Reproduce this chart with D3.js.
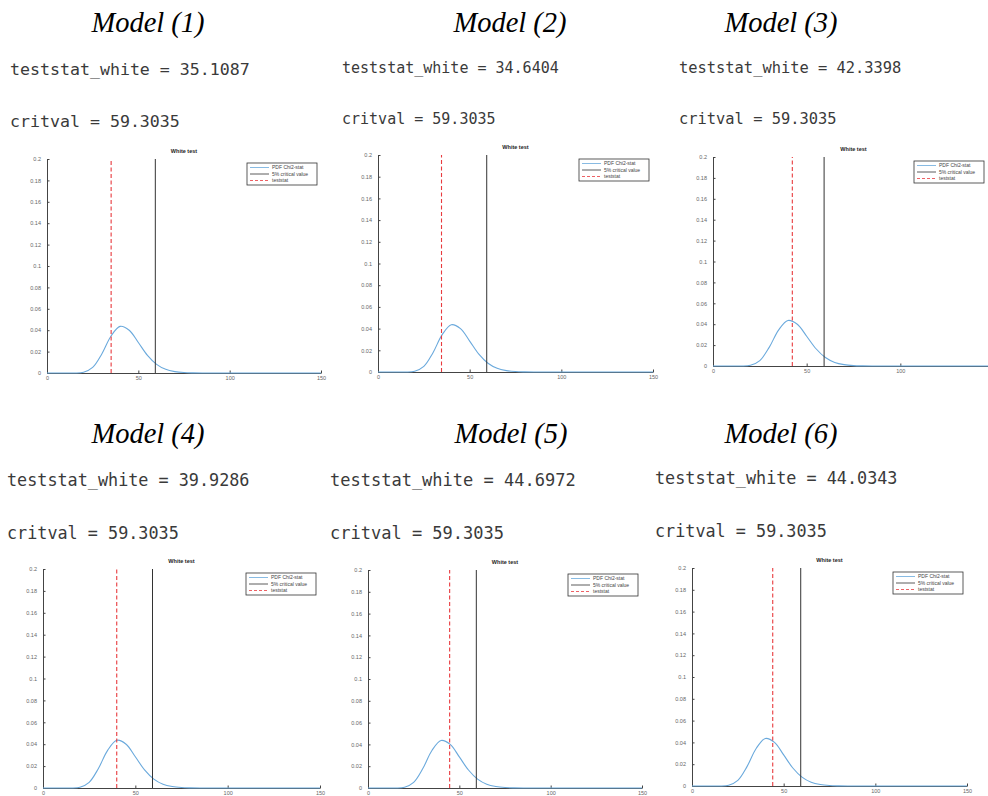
<!DOCTYPE html>
<html>
<head>
<meta charset="utf-8">
<script src="https://cdn.jsdelivr.net/npm/d3@7.9.0/dist/d3.min.js"></script>
<style>
  body { margin: 0; background: #fff; }
  svg { display: block; }
</style>
</head>
<body>
<svg id="chart" width="988" height="796"></svg>
<script>
// chart data
const models = ["Model (1)", "Model (2)", "Model (3)", "Model (4)", "Model (5)", "Model (6)"];
const teststat = [35.1087, 34.6404, 42.3398, 39.9286, 44.6972, 44.0343];
const critval = [59.3035, 59.3035, 59.3035, 59.3035, 59.3035, 59.3035];
const pdfX = [0, 5, 10, 15, 20, 25, 30, 35, 40, 45, 50, 55, 60, 65, 70, 75, 80, 85, 90, 100, 110, 120, 130, 140, 150];
const pdfY = [0, 0, 0, 0.00002, 0.0007, 0.0052, 0.0178, 0.0344, 0.0436, 0.0400, 0.0285, 0.0165, 0.0081, 0.0034, 0.0013, 0.0004, 0.0001, 0, 0, 0, 0, 0, 0, 0, 0];
const xTicks = [0, 50, 100, 150];
const yTicks = [0, 0.02, 0.04, 0.06, 0.08, 0.1, 0.12, 0.14, 0.16, 0.18, 0.2];
const legendLabels = ["PDF Chi2-stat", "5% critical value", "teststat"];

// where each screenshot sits on the page
const frames = [
  { left: 47, top: 159, right: 321, bottom: 373, head: 148, headY: 32, tx: 10, tY: 75, cY: 127, fs: 16.6 },
  { left: 378, top: 155, right: 653, bottom: 372, head: 510, headY: 32, tx: 342, tY: 73, cY: 124, fs: 15 },
  { left: 713, top: 157, right: 994, bottom: 366, head: 781, headY: 32, tx: 679, tY: 73, cY: 124, fs: 15.4 },
  { left: 43, top: 569, right: 320, bottom: 788, head: 148, headY: 443, tx: 7, tY: 486, cY: 539, fs: 16.8 },
  { left: 368, top: 570, right: 642, bottom: 788, head: 511, headY: 443, tx: 330, tY: 486, cY: 539, fs: 17 },
  { left: 692, top: 568, right: 967, bottom: 786, head: 781, headY: 443, tx: 655, tY: 484, cY: 537, fs: 16.8 }
];

const blue = "#6aa9dc";
const red = "#e83a3e";
const fmt = d3.format(".4f");
const svg = d3.select("#chart");
const pdf = pdfX.map((x, i) => ({ x: x, y: pdfY[i] }));

models.forEach((name, i) => {
  const f = frames[i];
  const g = svg.append("g");

  // heading and console output
  g.append("text")
    .attr("x", f.head).attr("y", f.headY)
    .attr("text-anchor", "middle")
    .style("font-family", "'Liberation Serif', 'Times New Roman', serif")
    .style("font-style", "italic")
    .style("font-size", "28.5px")
    .attr("fill", "#000")
    .text(name);

  g.append("text")
    .attr("x", f.tx).attr("y", f.tY)
    .style("font-family", "'DejaVu Sans Mono', monospace")
    .style("font-size", f.fs + "px")
    .attr("fill", "#3a3a3a")
    .text("teststat_white = " + fmt(teststat[i]));

  g.append("text")
    .attr("x", f.tx).attr("y", f.cY)
    .style("font-family", "'DejaVu Sans Mono', monospace")
    .style("font-size", f.fs + "px")
    .attr("fill", "#3a3a3a")
    .text("critval = " + fmt(critval[i]));

  // scales
  const x = d3.scaleLinear().domain([0, 150]).range([f.left, f.right]);
  const y = d3.scaleLinear().domain([0, 0.2]).range([f.bottom, f.top]);

  // axes, matlab style: ticks pointing in
  const yAxis = g.append("g")
    .attr("transform", `translate(${f.left},0)`)
    .call(d3.axisLeft(y).tickValues(yTicks).tickSizeInner(-2.5).tickSizeOuter(0).tickPadding(6).tickFormat(d3.format("~g")));
  const xAxis = g.append("g")
    .attr("transform", `translate(0,${f.bottom})`)
    .call(d3.axisBottom(x).tickValues(xTicks).tickSizeInner(-2.5).tickSizeOuter(0).tickPadding(3));

  [yAxis, xAxis].forEach(a => {
    a.select(".domain").attr("stroke", "#444").attr("stroke-width", 1);
    a.selectAll(".tick line").attr("stroke", "#444");
    a.selectAll(".tick text")
      .style("font-family", "'Liberation Sans', Arial, sans-serif")
      .style("font-size", "5.5px")
      .attr("fill", "#666");
  });

  // pdf curve
  const line = d3.line()
    .x(d => x(d.x))
    .y(d => y(d.y))
    .curve(d3.curveCatmullRom);
  g.append("path")
    .datum(pdf)
    .attr("d", line)
    .attr("fill", "none")
    .attr("stroke", blue)
    .attr("stroke-width", 1.1);

  // critical value
  g.append("line")
    .attr("x1", x(critval[i])).attr("x2", x(critval[i]))
    .attr("y1", y(0)).attr("y2", y(0.2))
    .attr("stroke", "#333")
    .attr("stroke-width", 1);

  // test statistic
  g.append("line")
    .attr("x1", x(teststat[i])).attr("x2", x(teststat[i]))
    .attr("y1", y(0)).attr("y2", y(0.2))
    .attr("stroke", red)
    .attr("stroke-width", 1.1)
    .attr("stroke-dasharray", "4,2.5");

  // title
  g.append("text")
    .attr("x", (f.left + f.right) / 2).attr("y", f.top - 6)
    .attr("text-anchor", "middle")
    .style("font-family", "'Liberation Sans', Arial, sans-serif")
    .style("font-size", "5.5px")
    .style("font-weight", "bold")
    .attr("fill", "#222")
    .text("White test");

  // legend
  const lw = 70, lh = 22;
  const lx = Math.min(f.right, 988) - lw - 4;
  const ly = f.top + 4;
  const leg = g.append("g").attr("transform", `translate(${lx},${ly})`);
  leg.append("rect")
    .attr("width", lw).attr("height", lh)
    .attr("fill", "#fff")
    .attr("stroke", "#333")
    .attr("stroke-width", 0.8);
  const styles = [
    { c: blue, dash: null },
    { c: "#333", dash: null },
    { c: red, dash: "3,2" }
  ];
  legendLabels.forEach((lab, k) => {
    const yy = 4.5 + k * 6.5;
    leg.append("line")
      .attr("x1", 3).attr("x2", 22)
      .attr("y1", yy).attr("y2", yy)
      .attr("stroke", styles[k].c)
      .attr("stroke-width", 0.8)
      .attr("stroke-dasharray", styles[k].dash);
    leg.append("text")
      .attr("x", 25).attr("y", yy + 1.8)
      .style("font-family", "'Liberation Sans', Arial, sans-serif")
      .style("font-size", "5px")
      .attr("fill", "#444")
      .text(lab);
  });
});
</script>
</body>
</html>
